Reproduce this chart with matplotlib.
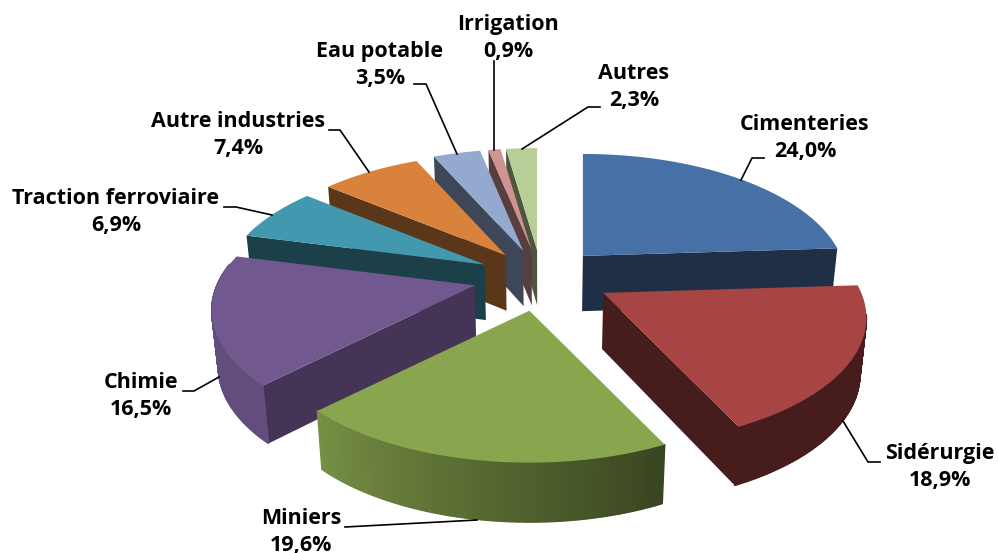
import numpy as np
import matplotlib
matplotlib.use("Agg")
import matplotlib.pyplot as plt
from matplotlib.patches import Polygon
from matplotlib.collections import PolyCollection
from matplotlib import font_manager as fm

categories = ["Cimenteries", "Sidérurgie", "Miniers", "Chimie", "Traction ferroviaire",
              "Autre industries", "Eau potable", "Irrigation", "Autres"]
values = [24.0, 18.9, 19.6, 16.5, 6.9, 7.4, 3.5, 0.9, 2.3]
colors = ["#4771A6", "#A64543", "#89A54E", "#71588F", "#4198AF",
          "#D9823B", "#93A9CF", "#D19392", "#B9CD96"]
value_labels = ["24,0%", "18,9%", "19,6%", "16,5%", "6,9%", "7,4%", "3,5%", "0,9%", "2,3%"]

# layout of the pseudo-3D projection (pixels)
CX, CY = 541, 275
RX, RY, K = 258, 122, 0.197
EX, EY = 65, 30
DEPTH = 56
DRAW_ORDER = [8, 7, 6, 5, 4, 0, 3, 1, 2]
# small offsets of each exploded slice (pixels)
nudge = [(3, 0), (0, 1), (2, -1), (0, 2), (-3, 2), (-1, 1), (-1, 0), (0, 0), (0, 0)]

# label centres and leader lines (pixels)
label_pos = [(805, 138), (940, 467), (301, 532), (141, 396), (116, 212),
             (238, 135), (380, 65), (508, 38), (634, 87)]
leaders = [[(764, 158), (752, 158), (741, 180)],
           [(880, 462), (868, 462), (843, 421)],
           [(345, 527), (477, 520)],
           [(183, 391), (194, 391), (219, 377)],
           [(224, 207), (236, 207), (272, 215)],
           [(329, 130), (340, 130), (369, 172)],
           [(414, 84), (426, 84), (457, 154)],
           [(494, 61), (494, 150)],
           [(600, 107), (588, 107), (522, 149)]]


def shade(c, s):
    return tuple(np.array(matplotlib.colors.to_rgb(c)) * s)


def arc_shade(t):
    return float(np.clip(0.42 + (t - 155) / 70 * 0.45, 0.42, 0.87))


def project(theta, r, off):
    th = np.radians(theta)
    x, y = r * np.sin(th), -r * np.cos(th)
    f = 1 / (1 - K * y)
    return np.column_stack([off[0] + RX * x * f, off[1] + RY * y * f])


def drop(pts):
    pts = np.atleast_2d(pts)
    out = pts.copy()
    out[:, 0] = CX + (pts[:, 0] - CX) * 0.98
    out[:, 1] = pts[:, 1] + DEPTH + (pts[:, 1] - 290) * 0.02
    return out


fig = plt.figure(figsize=(9.98, 5.53), dpi=100)
ax = fig.add_axes([0, 0, 1, 1])
ax.set_xlim(0, 998)
ax.set_ylim(553, 0)
ax.axis("off")

edges = np.concatenate([[0], np.cumsum(values)]) / sum(values) * 360

for order, i in enumerate(DRAW_ORDER):
    a0, a1 = edges[i], edges[i + 1]
    mid = np.radians((a0 + a1) / 2)
    mx, my = np.sin(mid), -np.cos(mid)
    f = 1 / (1 - K * my)
    off = (CX + EX * mx * f + nudge[i][0], CY + EY * my * f + nudge[i][1])
    apex = np.array([off])
    thetas = np.linspace(a0, a1, max(int(a1 - a0) * 2, 4))
    rim = project(thetas, 1, off)
    zb = order + 1
    # radial walls
    if a0 > 180:
        p = np.vstack([apex, rim[:1], drop(rim[:1]), drop(apex)])
        ax.add_patch(Polygon(p, fc=shade(colors[i], 0.6 if i == 3 else 0.42), ec="none", zorder=zb))
    if a1 < 180:
        p = np.vstack([apex, rim[-1:], drop(rim[-1:]), drop(apex)])
        ax.add_patch(Polygon(p, fc=shade(colors[i], 0.42), ec="none", zorder=zb))
    # outer wall
    quads, cols = [], []
    low = drop(rim)
    for j in range(len(thetas) - 1):
        if 100 <= thetas[j] <= 280:
            quads.append([rim[j], rim[j + 1], low[j + 1], low[j]])
            cols.append(shade(colors[i], arc_shade(thetas[j])))
    if quads:
        ax.add_collection(PolyCollection(quads, facecolors=cols, edgecolors=cols, linewidths=1.0, zorder=zb))
    # top face
    ax.add_patch(Polygon(np.vstack([apex, rim]), fc=colors[i], ec="none", zorder=zb + 0.5))

for line in leaders:
    xs, ys = zip(*line)
    ax.plot(xs, ys, color="black", lw=1.2, zorder=20, solid_joinstyle="miter")

label_font = fm.FontProperties(family="Open Sans", weight="bold", size=15.5)
for name, val, (x, y) in zip(categories, value_labels, label_pos):
    ax.text(x, y, f"{name}\n{val}", ha="center", va="center", fontproperties=label_font,
            linespacing=1.32, color="black", zorder=21, clip_on=False)

fig.savefig("out.png", dpi=100)
